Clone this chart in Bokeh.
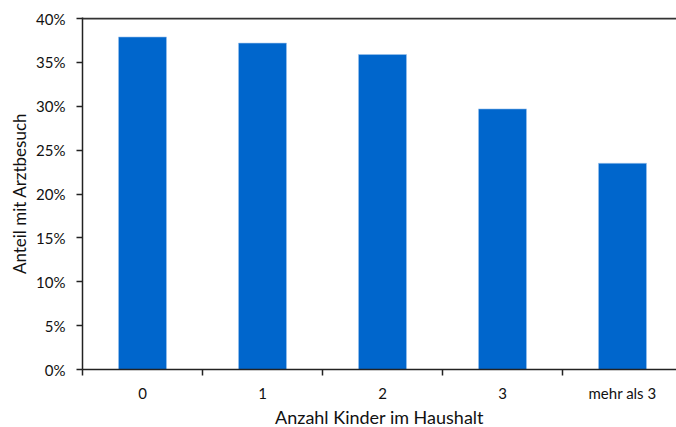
from bokeh.plotting import figure
from bokeh.models import Range1d, FixedTicker, PrintfTickFormatter, LinearAxis, ColumnDataSource, Span
from bokeh.embed import file_html
from bokeh.resources import INLINE

categories = ["0", "1", "2", "3", "mehr als 3"]
values = [37.9, 37.2, 35.9, 29.7, 23.5]
y_ticks = [0, 5, 10, 15, 20, 25, 30, 35, 40]
y_max = 40

xpos = list(range(len(categories)))
src = ColumnDataSource(dict(x=xpos, top=values))

FONT = "Lato"
p = figure(frame_width=594, frame_height=352, output_backend="svg", toolbar_location=None,
           x_range=Range1d(-0.5, len(categories) - 0.55), y_range=Range1d(0, y_max * 1.003),
           min_border_left=82, min_border_right=0, min_border_top=17, min_border_bottom=0,
           x_axis_location=None, y_axis_location=None)
p.outline_line_color = None
p.grid.visible = False

p.vbar(x="x", top="top", width=0.4, source=src, fill_color="#0066CC", line_color="#9CC3EC", line_width=0.6)

# top border line
p.add_layout(Span(location=y_max, dimension="width", line_color="#333333", line_width=2))

# left axis
ya = LinearAxis(ticker=FixedTicker(ticks=y_ticks), formatter=PrintfTickFormatter(format="%d%%"))
ya.axis_label = "Anteil mit Arztbesuch"
ya.axis_label_text_font = FONT
ya.axis_label_text_font_size = "17px"
ya.axis_label_text_font_style = "normal"
ya.axis_label_text_color = "#111111"
ya.axis_label_standoff = 3
ya.major_label_text_font = FONT
ya.major_label_text_font_size = "15px"
ya.major_label_text_color = "#111111"
ya.major_label_standoff = 11
ya.major_tick_in = 0
ya.major_tick_out = 6
ya.minor_tick_line_color = None
ya.axis_line_width = 1.5
ya.axis_line_color = "#222222"
ya.major_tick_line_width = 1.5
ya.major_tick_line_color = "#222222"
p.add_layout(ya, "left")

# bottom axis
xa = LinearAxis(ticker=FixedTicker(ticks=xpos, minor_ticks=[i - 0.5 for i in xpos]))
xa.major_label_overrides = {i: c for i, c in zip(xpos, categories)}
xa.axis_label = "Anzahl Kinder im Haushalt"
xa.axis_label_text_font = FONT
xa.axis_label_text_font_size = "18px"
xa.axis_label_text_font_style = "normal"
xa.axis_label_text_color = "#111111"
xa.axis_label_standoff = 1
xa.major_label_text_font = FONT
xa.major_label_text_font_size = "15px"
xa.major_label_text_color = "#111111"
xa.major_label_standoff = 8
xa.major_tick_line_color = None
xa.major_tick_in = 0
xa.major_tick_out = 0
xa.minor_tick_in = 0
xa.minor_tick_out = 6
xa.minor_tick_line_color = "#222222"
xa.minor_tick_line_width = 1.5
xa.axis_line_width = 1.5
xa.axis_line_color = "#222222"
p.add_layout(xa, "below")

open("out.html", "w").write(file_html(p, INLINE))
